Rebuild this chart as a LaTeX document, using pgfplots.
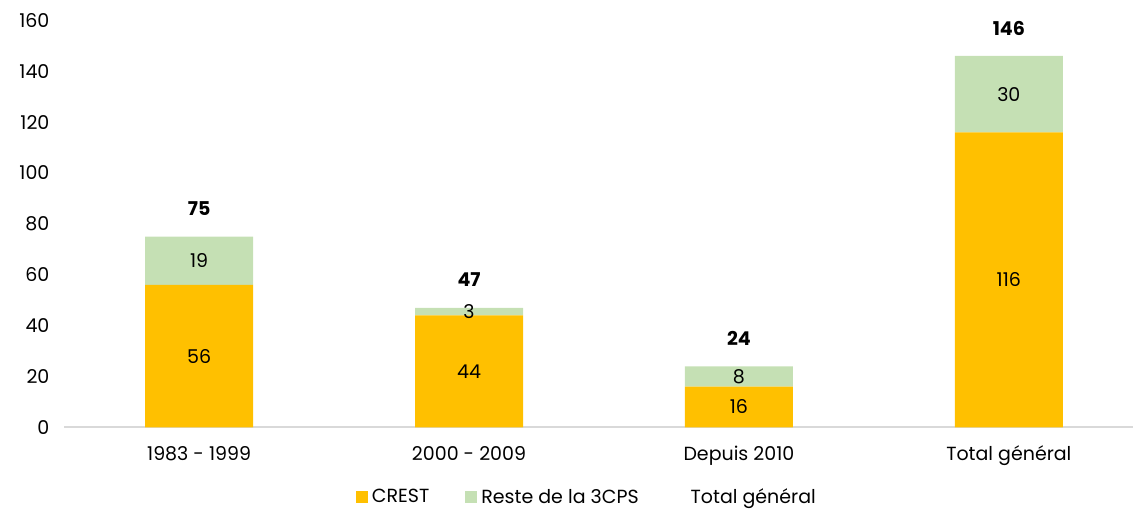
\documentclass[border=0pt]{standalone}
\usepackage{fontspec}
\setmainfont{Poppins}
\usepackage{pgfplots}
\pgfplotsset{compat=1.18}
\definecolor{crest}{HTML}{FFC000}
\definecolor{reste}{HTML}{C5E0B4}
\definecolor{axisgray}{HTML}{D9D9D9}
\begin{document}
\fontsize{9.5}{11}\selectfont
\begin{tikzpicture}
\begin{axis}[
  scale only axis,
  width=534.5pt, height=203.5pt,
  ybar stacked, bar width=54pt,
  xmin=-0.5, xmax=3.46,
  ymin=0, ymax=160,
  xtick=data,
  xticklabels={1983 - 1999, 2000 - 2009, Depuis 2010, Total général},
  ytick={0,20,...,160},
  /pgf/number format/assume math mode=true,
  axis x line*=bottom, axis y line*=left,
  x axis line style={axisgray, line width=1pt, -},
  y axis line style={draw=none},
  major tick length=0pt,
  tick label style={font=\fontsize{9.5}{11}\selectfont},
  yticklabel style={xshift=-4pt},
  xticklabel style={yshift=-6pt},
  clip=false,
  legend style={at={(0.49,-0.13)}, anchor=north, draw=none, legend columns=3,
    font=\fontsize{9.5}{11}\selectfont,
    nodes={inner xsep=2pt},
    /tikz/every even column/.append style={column sep=16pt}},
  legend image code/.code={\fill[#1] (0pt,-3pt) rectangle (6pt,3pt);},
]
\addplot[fill=crest, draw=none] coordinates {(0,56) (1,44) (2,16) (3,116)};
\addlegendentry{CREST}
\addplot[fill=reste, draw=none] coordinates {(0,19) (1,3) (2,8) (3,30)};
\addlegendentry{Reste de la 3CPS}
\addlegendimage{fill=white, draw=none}
\addlegendentry{Total général}
% label positions: segment centres and totals
\coordinate (a1) at (axis cs:0,28);
\coordinate (a2) at (axis cs:0,65.5);
\coordinate (at) at (axis cs:0,75);
\coordinate (b1) at (axis cs:1,22);
\coordinate (b2) at (axis cs:1,45.5);
\coordinate (bt) at (axis cs:1,47);
\coordinate (c1) at (axis cs:2,8);
\coordinate (c2) at (axis cs:2,20);
\coordinate (ct) at (axis cs:2,24);
\coordinate (d1) at (axis cs:3,58);
\coordinate (d2) at (axis cs:3,131);
\coordinate (dt) at (axis cs:3,146);
\end{axis}
\node at (a1) {56};
\node at (a2) {19};
\node at (b1) {44};
\node at (b2) {3};
\node at (c1) {16};
\node at (c2) {8};
\node at (d1) {116};
\node at (d2) {30};
\begin{scope}[every node/.style={font=\fontsize{9.5}{11}\selectfont\bfseries, yshift=14pt}]
\node at (at) {75};
\node at (bt) {47};
\node at (ct) {24};
\node at (dt) {146};
\end{scope}
% margins as in the reference
\path (current bounding box.north west) ++(-6.5pt,3.5pt);
\end{tikzpicture}
\end{document}
